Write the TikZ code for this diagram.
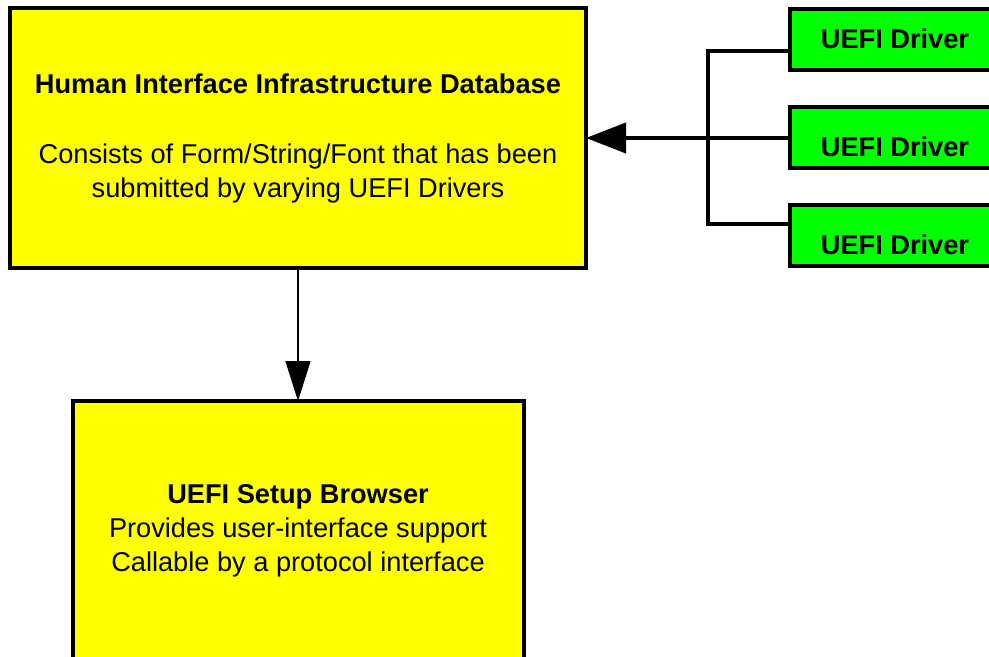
\documentclass[tikz,border=0pt]{standalone}
\usepackage{fontspec}
\setmainfont{Liberation Sans}
\usetikzlibrary{arrows.meta,positioning,calc}
\definecolor{hiifill}{RGB}{255,255,0}
\definecolor{drvfill}{RGB}{0,255,0}

\begin{document}
\begin{tikzpicture}[x=0.5pt, y=-0.5pt,
    node distance=18.5pt,
    box/.style={draw, line width=2pt, fill=hiifill, align=center, outer sep=0pt,
                font=\fontsize{13.6pt}{17pt}\selectfont, inner sep=0pt},
    drvbox/.style={draw, line width=2pt, fill=drvfill, inner sep=0pt, outer sep=0pt,
                   font=\fontsize{13.6pt}{17pt}\selectfont\bfseries,
                   minimum width=105pt, minimum height=30.5pt,
                   text height=10.2pt, text depth=2pt},
    low/.style={text height=18.5pt, text depth=0pt},
    feed/.style={line width=2pt},
    bigarr/.style={-{Triangle[length=20pt, width=15pt]}, line width=2pt},
    thinarr/.style={-{Triangle[length=20pt, width=12.5pt]}, line width=0.75pt}
  ]
  \useasboundingbox (0,0) rectangle (989,657);
  \clip (0,0) rectangle (989,657);

  \node[box, minimum width=288pt, minimum height=130pt] (db) at (298,138)
    {\textbf{Human Interface Infrastructure Database}\\[18pt]
     Consists of Form/String/Font that has been\\
     submitted by varying UEFI Drivers};
  \node[box, minimum width=225.5pt, minimum height=130pt, below=66.5pt of db] (browser)
    {\textbf{UEFI Setup Browser}\\
     Provides user-interface support\\
     Callable by a protocol interface};

  % drivers on the right
  \node[drvbox, low, right=102pt of db] (drv2) {UEFI Driver};
  \node[drvbox, above=of drv2] (drv1) {UEFI Driver};
  \node[drvbox, low, below=of drv2] (drv3) {UEFI Driver};

  \coordinate (jn) at ($(drv2.west)+(-82,0)$);
  \draw[feed] ($(drv1.west)+(0,11.5)$) -| (jn) |- ($(drv3.west)+(0,-11.5)$);
  \draw[bigarr] (drv2.west) -- (db.east);
  \draw[thinarr] (db.south) -- (browser.north);
\end{tikzpicture}
\end{document}
